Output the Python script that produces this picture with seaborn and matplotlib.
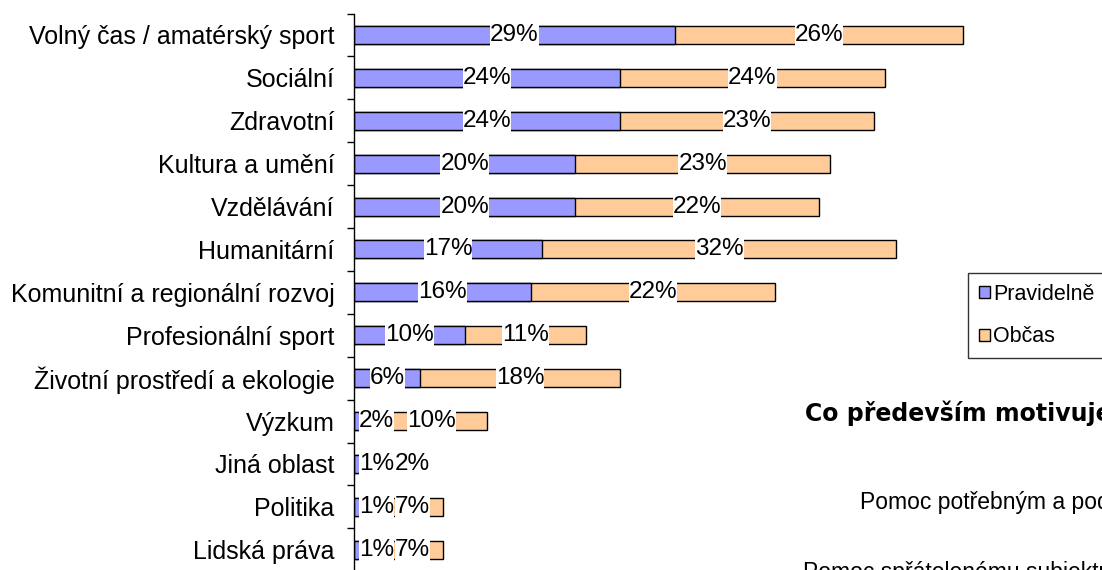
import pandas as pd
import matplotlib
matplotlib.use("Agg")
import matplotlib.pyplot as plt
import seaborn as sns
from matplotlib.patches import Patch

# data
oblasti = ["Volný čas / amatérský sport", "Sociální", "Zdravotní", "Kultura a umění",
           "Vzdělávání", "Humanitární", "Komunitní a regionální rozvoj",
           "Profesionální sport", "Životní prostředí a ekologie", "Výzkum",
           "Jiná oblast", "Politika", "Lidská práva"]
pravidelne = [29, 24, 24, 20, 20, 17, 16, 10, 6, 2, 1, 1, 1]
obcas = [26, 24, 23, 23, 22, 32, 22, 11, 18, 10, 2, 7, 7]

df = pd.DataFrame({"oblast": oblasti, "Pravidelně": pravidelne, "Občas": obcas})
df["celkem"] = df["Pravidelně"] + df["Občas"]

c_prav = "#9999FF"
c_obc = "#FFCC99"

sns.set_style("white")
plt.rcParams["font.family"] = ["Liberation Sans", "DejaVu Sans"]
plt.rcParams["text.color"] = "black"
plt.rcParams["ytick.labelcolor"] = "black"

fig = plt.figure(figsize=(11.02, 5.70), dpi=100)
ax = fig.add_axes([354 / 1102, -1.25 / 570, 1 - 354 / 1102, 557.75 / 570])

# stacked bars: total first, then regular on top
sns.barplot(data=df, y="oblast", x="celkem", color=c_obc, orient="h", width=0.42,
            edgecolor="black", linewidth=1, saturation=1, ax=ax)
sns.barplot(data=df, y="oblast", x="Pravidelně", color=c_prav, orient="h", width=0.42,
            edgecolor="black", linewidth=1, saturation=1, ax=ax)

# percent labels in the middle of each segment
labels = []
for i, (p, o) in enumerate(zip(pravidelne, obcas)):
    tp = ax.text(p / 2, i, f"{p}%", ha="center", va="center", fontsize=17.5, zorder=2.4,
                 bbox=dict(facecolor="white", edgecolor="none", pad=0))
    to = ax.text(p + o / 2, i, f"{o}%", ha="center", va="center", fontsize=17.5, zorder=2.4,
                 bbox=dict(facecolor="white", edgecolor="none", pad=0))
    labels.append((tp, to))

ax.set_xlim(0, (1102 - 354) / 11.07)
ax.set_ylim(12.5, -0.5)
ax.set_xlabel("")
ax.set_ylabel("")
ax.set_xticks([])
ax.tick_params(axis="y", which="major", left=False, length=0, labelsize=18, pad=14)
ax.set_yticks([i - 0.5 for i in range(14)], minor=True)
ax.tick_params(axis="y", which="minor", left=True, length=5, width=1, color="black", direction="out")
for s in ["top", "right", "bottom"]:
    ax.spines[s].set_visible(False)
ax.spines["left"].set_color("black")
ax.spines["left"].set_linewidth(1)

# keep small labels inside the plot and off each other (like Excel does)
fig.canvas.draw()
r = fig.canvas.get_renderer()
inv = ax.transData.inverted()
x0 = ax.transData.transform((0, 0))[0]
for tp, to in labels:
    bp = tp.get_window_extent(r)
    if bp.x0 < x0 + 5:
        tp.set_ha("left")
        tp.set_x(inv.transform((x0 + 5, 0))[0])
        bp = tp.get_window_extent(r)
    bo = to.get_window_extent(r)
    if bo.x0 < bp.x1 + 1:
        to.set_ha("left")
        to.set_x(inv.transform((bp.x1 + 1, 0))[0])

handles = [Patch(facecolor=c_prav, edgecolor="black", label="Pravidelně"),
           Patch(facecolor=c_obc, edgecolor="black", label="Občas")]
leg = fig.legend(handles=handles, loc="upper left", bbox_to_anchor=(968 / 1102, 1 - 273 / 570),
                 fontsize=15.5, frameon=True, fancybox=False, handlelength=0.5, handleheight=0.5,
                 handletextpad=0.15, borderpad=0.5, labelspacing=1.0, borderaxespad=0)
leg.get_frame().set_edgecolor("black")
leg.get_frame().set_linewidth(1)

fig.text(805 / 1102, 1 - 413 / 570, "Co především motivuje", fontsize=17, fontweight="bold",
         family="DejaVu Sans", va="center", ha="left")
fig.text(860 / 1102, 1 - 502 / 570, "Pomoc potřebným a pod", fontsize=16.5, va="center", ha="left")
fig.text(803 / 1102, 1 - 561 / 570, "Pomoc spřátelenému subjektu", fontsize=16.5, va="top", ha="left")

fig.savefig("out.png", dpi=100)
